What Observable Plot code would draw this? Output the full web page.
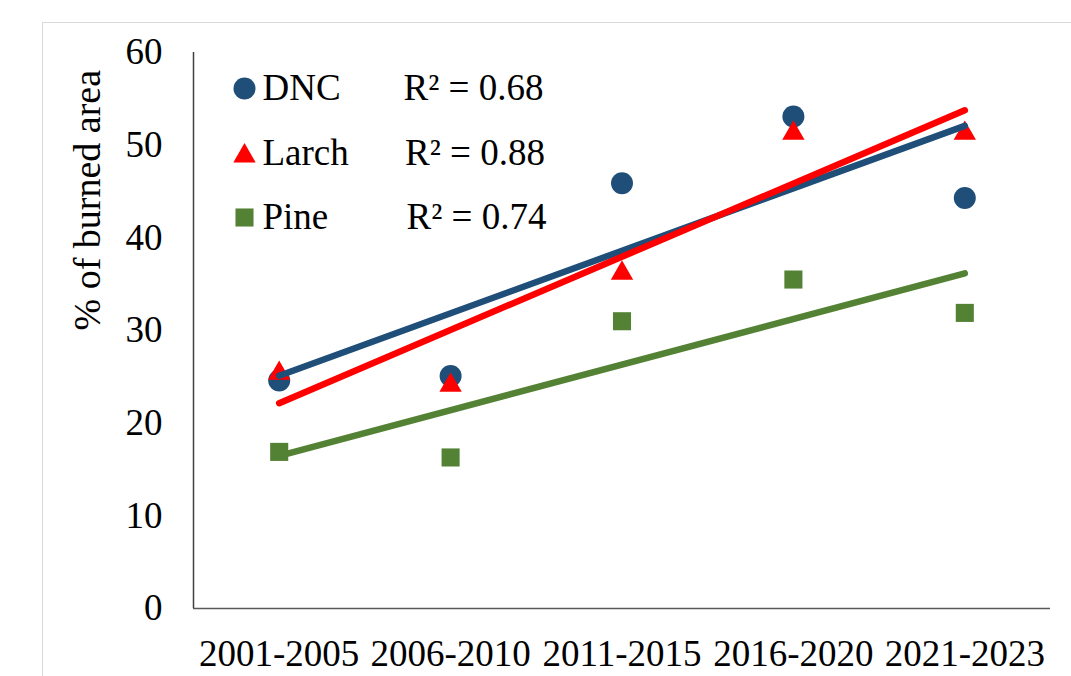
<!DOCTYPE html>
<html>
<head>
<meta charset="utf-8">
<script src="https://cdn.jsdelivr.net/npm/d3@7"></script>
<script src="https://cdn.jsdelivr.net/npm/@observablehq/plot@0.6"></script>
<style>
  html, body { margin: 0; padding: 0; background: #fff; }
  #wrap { position: relative; width: 1071px; height: 676px; overflow: hidden; }
  #border { position: absolute; left: 42px; top: 22px; right: -5px; bottom: -5px;
            border-left: 1.5px solid #d9d9d9; border-top: 1.5px solid #d9d9d9; }
  #chart { position: absolute; left: 0; top: 0; }
  #chart svg text { font-family: 'Liberation Serif', 'Times New Roman', serif; }
</style>
</head>
<body>
<div id="wrap"><div id="border"></div><div id="chart"></div></div>
<script>
// ---- data ----
const periods = ["2001-2005", "2006-2010", "2011-2015", "2016-2020", "2021-2023"];
const dncValues   = [24.6, 25.1, 45.9, 53.1, 44.3];
const larchValues = [25.7, 24.4, 36.5, 51.6, 51.6];
const pineValues  = [16.9, 16.3, 31.0, 35.5, 31.9];
const seriesNames = ["DNC", "Larch", "Pine"];
const r2Labels    = ["R² = 0.68", "R² = 0.88", "R² = 0.74"];
const yTicks      = [0, 10, 20, 30, 40, 50, 60];

// ---- styles ----
const serif   = "'Liberation Serif', 'Times New Roman', serif";
const colors  = {DNC: "#1f4e79", Larch: "#ff0000", Pine: "#548235"};
const symbols = {DNC: "circle", Larch: "triangle", Pine: "square"};
const radius  = {DNC: 11, Larch: 8.3, Pine: 10.2};
const markDy  = {DNC: 0, Larch: 3, Pine: 0};

const valuesBy = {DNC: dncValues, Larch: larchValues, Pine: pineValues};
const rows = seriesNames.flatMap(s => valuesBy[s].map((v, i) => ({series: s, x: i + 1, y: v})));

const marks = [];
// points
for (const s of seriesNames) {
  marks.push(Plot.dot(rows.filter(d => d.series === s), {
    x: "x", y: "y", symbol: () => symbols[s], r: radius[s],
    fill: colors[s], stroke: "none", dy: markDy[s]
  }));
}
// trend lines
for (const s of seriesNames) {
  marks.push(Plot.linearRegressionY(rows.filter(d => d.series === s), {
    x: "x", y: "y", ci: 0, stroke: colors[s], strokeWidth: 6.5, strokeLinecap: "round"
  }));
}
// axes lines
marks.push(Plot.ruleY([0], {stroke: "#595959", strokeWidth: 1.5}));
marks.push(Plot.ruleX([0.5], {stroke: "#404040", strokeWidth: 1.5}));
marks.push(Plot.axisX({ticks: [1, 2, 3, 4, 5], tickFormat: i => periods[i - 1], tickSize: 0, tickPadding: 31, label: null, fontFamily: serif}));
marks.push(Plot.axisY({ticks: yTicks, tickSize: 0, tickPadding: 31, label: null, fontFamily: serif}));
// y label
marks.push(Plot.text(["% of burned area"], {frameAnchor: "left", rotate: -90, dx: -106, fontSize: 38, fill: "#000", fontFamily: serif}));
// legend
seriesNames.forEach((s, i) => {
  const rowDy = 36 + i * 64.5;
  marks.push(Plot.dot([s], {frameAnchor: "top-left", dx: 51, dy: rowDy + markDy[s], symbol: () => symbols[s], r: radius[s], fill: colors[s], stroke: "none"}));
  marks.push(Plot.text([s], {frameAnchor: "top-left", dx: 69, dy: rowDy, textAnchor: "start", lineAnchor: "middle", fill: "#000", fontFamily: serif}));
  marks.push(Plot.text([r2Labels[i]], {frameAnchor: "top-left", dx: 210 + i * 1.5, dy: rowDy, textAnchor: "start", lineAnchor: "middle", fill: "#000", fontFamily: serif}));
});

const chart = Plot.plot({
  width: 1071,
  height: 676,
  marginLeft: 193,
  marginRight: 21,
  marginTop: 52,
  marginBottom: 68,
  style: {fontFamily: serif, fontSize: "37px", color: "#000", background: "transparent", overflow: "visible"},
  x: {domain: [0.5, 5.5], axis: null},
  y: {domain: [0, 60], axis: null},
  marks
});
document.getElementById("chart").appendChild(chart);
</script>
</body>
</html>
